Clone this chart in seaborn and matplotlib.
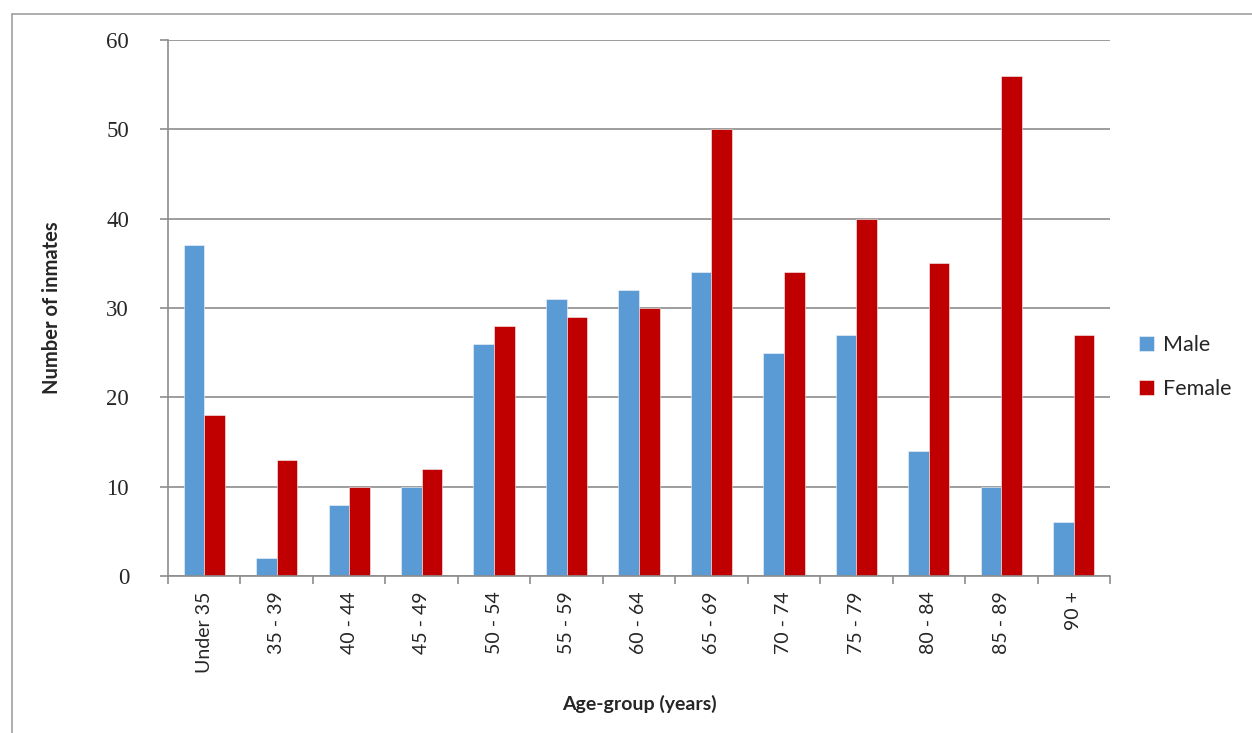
import numpy as np
import pandas as pd
import matplotlib
matplotlib.use("Agg")
import matplotlib.pyplot as plt
from matplotlib.lines import Line2D
import seaborn as sns

# Inmates by age-group and sex
age_groups = ["Under 35", "35 - 39", "40 - 44", "45 - 49", "50 - 54", "55 - 59",
              "60 - 64", "65 - 69", "70 - 74", "75 - 79", "80 - 84", "85 - 89", "90 +"]
male = [37, 2, 8, 10, 26, 31, 32, 34, 25, 27, 14, 10, 6]
female = [18, 13, 10, 12, 28, 29, 30, 50, 34, 40, 35, 56, 27]
y_ticks = [0, 10, 20, 30, 40, 50, 60]

df = pd.DataFrame({
    "Age-group": age_groups * 2,
    "Count": male + female,
    "Sex": ["Male"] * len(male) + ["Female"] * len(female),
})

sns.set_theme(style="white")
plt.rcParams["font.family"] = ["Lato", "DejaVu Sans"]

GRID = "#8c8c8c"
palette = {"Male": "#5b9bd5", "Female": "#c00000"}

fig = plt.figure(figsize=(12.52, 7.33), dpi=100)
ax = fig.add_axes([168 / 1252, 1 - 576 / 733, (1110 - 168) / 1252, (576 - 40) / 733])

sns.barplot(data=df, x="Age-group", y="Count", hue="Sex", order=age_groups,
            hue_order=["Male", "Female"], palette=palette, width=0.57, gap=0,
            edgecolor="#f6f6f6", linewidth=0.4, saturation=1, ax=ax, legend=True)

ax.set_xlim(-0.5, len(age_groups) - 0.5)
ax.set_ylim(0, 60)
ax.set_yticks(y_ticks)
ax.set_yticklabels([str(v) for v in y_ticks], family=["Liberation Serif"], fontsize=16.5)
ax.yaxis.grid(True, color=GRID, linewidth=1.2)
ax.set_axisbelow(True)

for side in ["top", "right"]:
    ax.spines[side].set_visible(False)
for side in ["left", "bottom"]:
    ax.spines[side].set_color(GRID)
    ax.spines[side].set_linewidth(1.2)

ax.tick_params(axis="y", which="major", left=True, length=6, width=1.2, color=GRID, pad=22)
ax.set_xticks(np.arange(len(age_groups)))
ax.set_xticklabels(age_groups, rotation=90, fontsize=14, va="top")
ax.set_xticks(np.arange(-0.5, len(age_groups), 1), minor=True)
ax.tick_params(axis="x", which="major", length=0, pad=11)
ax.tick_params(axis="x", which="minor", bottom=True, length=6, width=1.2, color=GRID)

ax.set_ylabel("Number of inmates", fontsize=14.5, fontweight="bold")
ax.yaxis.set_label_coords(-0.112, 0.5)
ax.set_xlabel("Age-group (years)", fontsize=14, fontweight="bold")
ax.xaxis.set_label_coords(0.5, -0.222)

handles, labels = ax.get_legend_handles_labels()
ax.legend(handles, labels, loc="center left", bbox_to_anchor=(1.022, 0.39),
          frameon=False, fontsize=15.5, handlelength=0.7, handleheight=0.7,
          handletextpad=0.4, labelspacing=1.15, borderaxespad=0)

# Outer chart-area border (left and top edges)
fig.add_artist(Line2D([12 / 1252, 12 / 1252], [0, 1 - 14 / 733], transform=fig.transFigure,
                      color="#a0a0a0", linewidth=1.2))
fig.add_artist(Line2D([12 / 1252, 1], [1 - 14 / 733, 1 - 14 / 733], transform=fig.transFigure,
                      color="#a0a0a0", linewidth=1.2))

fig.savefig("out.png", dpi=100)
